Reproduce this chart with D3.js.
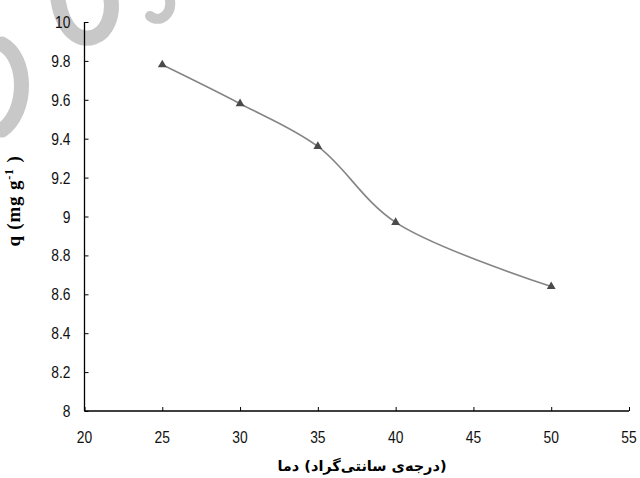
<!DOCTYPE html>
<html>
<head>
<meta charset="utf-8">
<script src="https://cdn.jsdelivr.net/npm/d3@7"></script>
<style>
  body { margin: 0; background: #fff; }
  svg { display: block; }
</style>
</head>
<body>
<div id="chart"></div>
<script>
// temperature (C) vs adsorption capacity q
const temps = [25, 30, 35, 40, 50];
const qValues = [9.78, 9.58, 9.36, 8.97, 8.64];
const xTicks = [20, 25, 30, 35, 40, 45, 50, 55];
const yTicks = [8, 8.2, 8.4, 8.6, 8.8, 9, 9.2, 9.4, 9.6, 9.8, 10];
const xTitleParts = ["دما", "(درجه‌ی سانتی‌گراد)"];

const width = 640, height = 478;
const margin = {top: 22, right: 11, bottom: 67, left: 84.5};
const tickFont = "Liberation Sans, Arial, sans-serif";

const svg = d3.select("#chart").append("svg")
    .attr("width", width)
    .attr("height", height);

// watermark strokes, light grey, behind everything
const wm = svg.append("g").attr("fill", "none").attr("stroke", "#c8c8c8")
    .attr("stroke-linecap", "round");
wm.append("path").attr("d", "M2,44 C28,58 28,112 2,130").attr("stroke-width", 15);
wm.append("path").attr("d", "M58,0 C63,30 78,42 94,37 C108,32 113,14 111,0").attr("stroke-width", 15);
wm.append("path").attr("d", "M170,0 C172,14 160,24 150,16").attr("stroke-width", 10);

const x = d3.scaleLinear()
    .domain([20, 55])
    .range([margin.left, width - margin.right]);

const y = d3.scaleLinear()
    .domain([8, 10])
    .range([height - margin.bottom, margin.top]);

// x axis, ticks pointing inward
const xAxis = svg.append("g")
    .attr("transform", `translate(0,${y(8)})`)
    .call(d3.axisTop(x).tickValues(xTicks).tickSize(4).tickFormat(""));
xAxis.select(".domain").attr("d", `M${x(20)},0H${x(55)}`).attr("stroke-width", 1.3);

// labels are squeezed a bit to look like a narrow font
svg.append("g").selectAll("text")
    .data(xTicks)
    .join("text")
    .attr("transform", d => `translate(${x(d)},${y(8) + 32}) scale(0.84,1)`)
    .attr("text-anchor", "middle")
    .attr("font-family", tickFont)
    .attr("font-size", 16.5)
    .attr("fill", "#111")
    .text(d => d);

// y axis
const yAxis = svg.append("g")
    .attr("transform", `translate(${x(20)},0)`)
    .call(d3.axisRight(y).tickValues(yTicks).tickSize(4).tickFormat(""));
yAxis.select(".domain").attr("d", `M0,${y(10)}V${y(8)}`).attr("stroke-width", 1.3);

svg.append("g").selectAll("text")
    .data(yTicks)
    .join("text")
    .attr("transform", d => `translate(${x(20) - 14},${y(d) + 6}) scale(0.84,1)`)
    .attr("text-anchor", "end")
    .attr("font-family", tickFont)
    .attr("font-size", 16.5)
    .attr("fill", "#111")
    .text(d => d);

// smoothed line like excel
const line = d3.line()
    .x((d, i) => x(temps[i]))
    .y(d => y(d))
    .curve(d3.curveCatmullRom.alpha(0.5));

svg.append("path")
    .datum(qValues)
    .attr("d", line)
    .attr("fill", "none")
    .attr("stroke", "#858585")
    .attr("stroke-width", 1.6);

svg.append("g").selectAll("path")
    .data(qValues)
    .join("path")
    .attr("transform", (d, i) => `translate(${x(temps[i])},${y(d)})`)
    .attr("d", d3.symbol(d3.symbolTriangle, 34))
    .attr("fill", "#4a4a4a");

// axis titles
svg.append("text")
    .attr("transform", `translate(20,201) rotate(-90)`)
    .attr("text-anchor", "middle")
    .attr("font-family", "Liberation Serif, Times New Roman, serif")
    .attr("font-weight", "bold")
    .attr("font-size", 19)
    .attr("letter-spacing", 0.8)
    .html('q (mg g<tspan dy="-7" font-size="12">-1</tspan><tspan dy="7"> )</tspan>');

// two pieces so the word order stays as in the reference
const parts = svg.append("g").selectAll("text")
    .data(xTitleParts)
    .join("text")
    .attr("y", 471)
    .attr("font-family", "DejaVu Sans, sans-serif")
    .attr("font-weight", "bold")
    .attr("font-size", 14.5)
    .text(d => d);
const widths = parts.nodes().map(n => n.getComputedTextLength());
const gap = 5;
const total = widths[0] + gap + widths[1];
const left = 362 - total / 2;
parts.attr("x", (d, i) => i === 0 ? left : left + widths[0] + gap);
</script>
</body>
</html>
